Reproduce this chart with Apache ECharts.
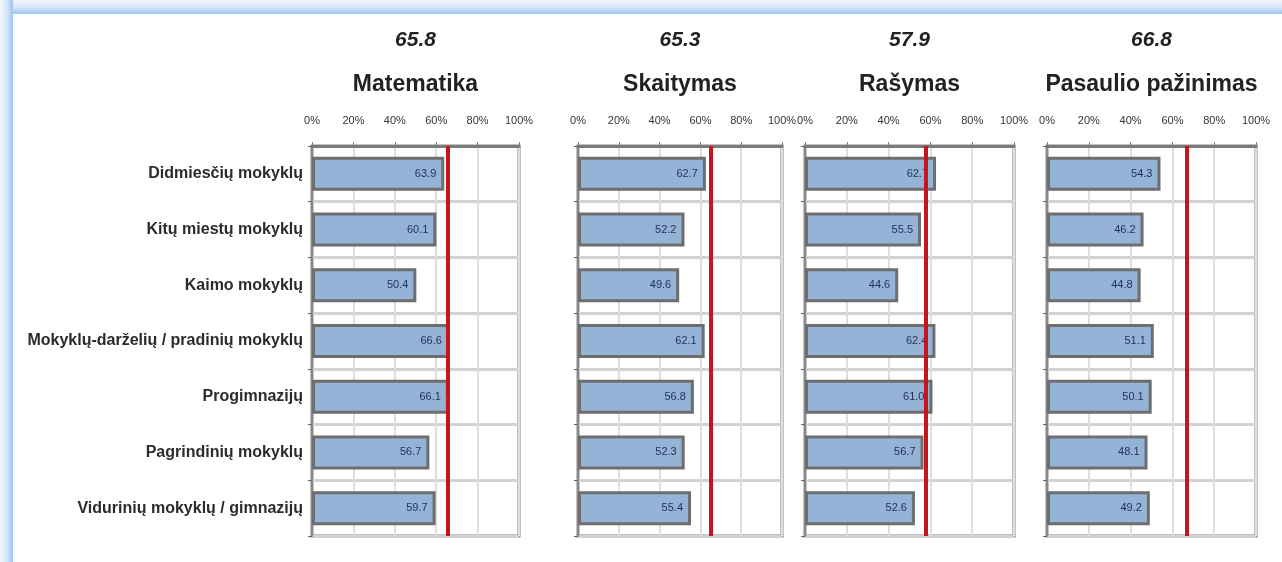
<!DOCTYPE html>
<html>
<head>
<meta charset="utf-8">
<title>Rezultatai pagal mokyklų tipą</title>
<script src="https://cdn.jsdelivr.net/npm/echarts@6/dist/echarts.min.js"></script>
<style>
html, body { margin:0; padding:0; background:#fff; }
.edgeTop { position:absolute; left:0; top:0; width:1282px; height:14px;
  background:linear-gradient(to bottom, #f4f8fd, #d3e4f9 55%, #9fc3ef); }
.edgeLeft { position:absolute; left:0; top:0; width:13px; height:562px;
  background:linear-gradient(to right, #f4f8fd, #d3e4f9 55%, #9fc3ef); }
#chart { position:absolute; left:0; top:0; width:1282px; height:562px; }
</style>
</head>
<body>
<div class="edgeTop"></div>
<div class="edgeLeft"></div>
<div id="chart"></div>
<script>
// duomenys
var categories = [
	'Didmiesčių mokyklų',
	'Kitų miestų mokyklų',
	'Kaimo mokyklų',
	'Mokyklų-darželių / pradinių mokyklų',
	'Progimnazijų',
	'Pagrindinių mokyklų',
	'Vidurinių mokyklų / gimnazijų'
];
var subjects = ['Matematika', 'Skaitymas', 'Rašymas', 'Pasaulio pažinimas'];
var averages = [65.8, 65.3, 57.9, 66.8];
var matematika = [63.9, 60.1, 50.4, 66.6, 66.1, 56.7, 59.7];
var skaitymas = [62.7, 52.2, 49.6, 62.1, 56.8, 52.3, 55.4];
var rasymas = [62.7, 55.5, 44.6, 62.4, 61.0, 56.7, 52.6];
var pasaulio = [54.3, 46.2, 44.8, 51.1, 50.1, 48.1, 49.2];
var xTicks = [0, 20, 40, 60, 80, 100];

var seriesData = [matematika, skaitymas, rasymas, pasaulio];

var FONT = '"Liberation Sans Narrow", "Liberation Sans", "Noto Sans", sans-serif';

// paneliu padetis
var boxes = [
	{ left: 312, width: 207 },
	{ left: 578, width: 204 },
	{ left: 805, width: 209 },
	{ left: 1047, width: 209 }
];

var grids = [], xAxes = [], yAxes = [], series = [], graphics = [];

for (var i = 0; i < subjects.length; i++)
{
	var b = boxes[i];
	grids.push({
		left: b.left, width: b.width, top: 146, bottom: 26,
		show: true, borderColor: '#858585', borderWidth: 3
	});
	xAxes.push({
		gridIndex: i,
		type: 'value',
		position: 'top',
		min: xTicks[0],
		max: xTicks[xTicks.length - 1],
		interval: xTicks[1] - xTicks[0],
		axisLine: { show: true, lineStyle: { color: '#7a7a7a', width: 3 } },
		axisTick: { show: true, length: 4, lineStyle: { color: '#7a7a7a' } },
		axisLabel: {
			margin: 20,
			fontFamily: FONT, fontSize: 11, color: '#333',
			formatter: '{value}%'
		},
		splitLine: { show: true, lineStyle: { color: '#dedede', width: 2 } }
	});
	yAxes.push({
		gridIndex: i,
		type: 'category',
		inverse: true,
		data: categories,
		axisLine: { show: true, lineStyle: { color: '#8a8a8a', width: 2 } },
		axisTick: { show: true, length: 4, lineStyle: { color: '#666' } },
		axisLabel: {
			show: i === 0,
			margin: 9,
			fontFamily: FONT, fontSize: 16, fontWeight: 'bold', color: '#2b2b2b'
		},
		splitLine: { show: true, lineStyle: { color: '#d2d2d2', width: 3 } }
	});
	series.push({
		name: subjects[i],
		type: 'bar',
		xAxisIndex: i,
		yAxisIndex: i,
		data: seriesData[i],
		barWidth: 34,
		itemStyle: { color: '#95b3d7', borderColor: '#6e6e6e', borderWidth: 3 },
		label: {
			show: true,
			position: 'insideRight',
			distance: 8,
			fontFamily: FONT, fontSize: 11, color: '#1f2f55',
			formatter: function (p) { return p.value.toFixed(1); }
		},
		markLine: {
			silent: true,
			symbol: 'none',
			label: { show: false },
			lineStyle: { color: '#c4161c', width: 4, type: 'solid' },
			data: [ { xAxis: averages[i] } ]
		}
	});
	var cx = b.left + b.width / 2;
	graphics.push({
		type: 'text', x: cx, y: 40,
		style: {
			text: averages[i].toFixed(1),
			textAlign: 'center', textVerticalAlign: 'middle',
			font: 'italic bold 21px ' + FONT, fill: '#222'
		}
	});
	graphics.push({
		type: 'text', x: cx, y: 85,
		style: {
			text: subjects[i],
			textAlign: 'center', textVerticalAlign: 'middle',
			font: 'bold 23px ' + FONT, fill: '#222'
		}
	});
}

var myChart = echarts.init(document.getElementById('chart'));
myChart.setOption({
	animation: false,
	grid: grids,
	xAxis: xAxes,
	yAxis: yAxes,
	series: series,
	graphic: graphics
});
</script>
</body>
</html>
